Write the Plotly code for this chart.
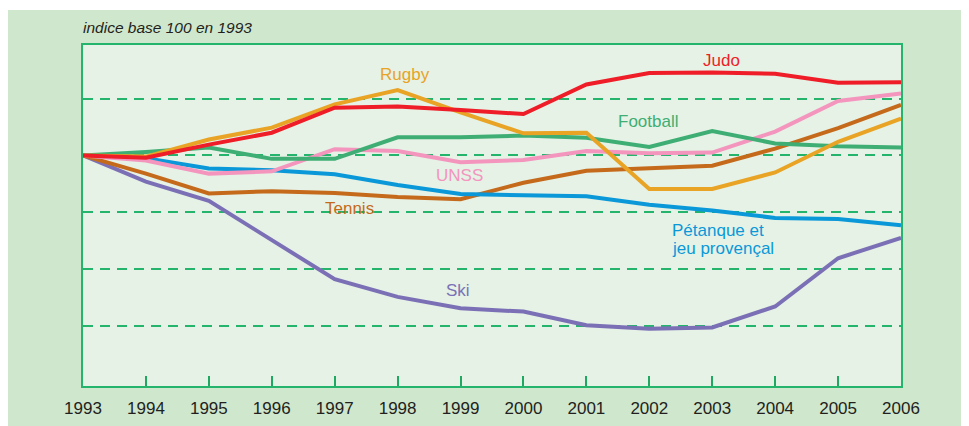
import plotly.graph_objects as go

years = list(range(1993, 2007))

judo = [100, 99.6, 101.9, 104.0, 108.4, 108.6, 108.0, 107.3, 112.5, 114.5, 114.6, 114.4, 112.8, 112.9]
rugby = [100, 99.8, 102.8, 104.9, 109.0, 111.5, 107.6, 103.9, 104.0, 94.1, 94.1, 97.0, 102.4, 106.5]
football = [100, 100.6, 101.4, 99.4, 99.4, 103.2, 103.2, 103.5, 103.1, 101.5, 104.3, 102.1, 101.6, 101.4]
unss = [100, 99.1, 96.8, 97.2, 101.1, 100.8, 98.8, 99.2, 100.8, 100.4, 100.5, 104.2, 109.6, 110.9]
petanque = [100, 99.5, 97.7, 97.4, 96.7, 94.8, 93.2, 93.0, 92.8, 91.3, 90.3, 89.0, 88.8, 87.7]
tennis = [100, 96.8, 93.3, 93.7, 93.4, 92.7, 92.3, 95.2, 97.3, 97.8, 98.2, 101.2, 104.8, 108.9]
ski = [100, 95.4, 92.0, 85.1, 78.2, 75.1, 73.1, 72.5, 70.1, 69.5, 69.7, 73.4, 81.9, 85.5]

grid_vals = [70, 80, 90, 100, 110]

series = [
    ("Ski", ski, "#7b70b6"),
    ("Tennis", tennis, "#c56a1b"),
    ("Pétanque et jeu provençal", petanque, "#0a98d9"),
    ("UNSS", unss, "#f495be"),
    ("Football", football, "#3fae74"),
    ("Rugby", rugby, "#e9a325"),
    ("Judo", judo, "#ee1d27"),
]

FONT = "Liberation Sans, Arial, sans-serif"
GREEN = "#25b46c"

fig = go.Figure()
for name, vals, col in series:
    fig.add_trace(go.Scatter(x=years, y=vals, mode="lines", name=name,
                             line=dict(color=col, width=4), showlegend=False,
                             hoverinfo="skip"))

labels = [
    ("Judo", 2003.14, 116.8, "#ee1d27"),
    ("Rugby", 1998.12, 114.3, "#e9a325"),
    ("Football", 2001.98, 105.9, "#3fae74"),
    ("UNSS", 1998.98, 96.4, "#f495be"),
    ("Tennis", 1997.24, 90.6, "#c56a1b"),
    ("Ski", 1998.96, 76.3, "#7b70b6"),
]
for txt, x, y, col in labels:
    fig.add_annotation(x=x, y=y, text=txt, showarrow=False, xanchor="center", yanchor="middle",
                       font=dict(family=FONT, size=17, color=col))
for txt, y in [("Pétanque et", 86.7), ("jeu provençal", 83.7)]:
    fig.add_annotation(x=2002.33, y=y, text=txt, showarrow=False,
                       xanchor="left", yanchor="middle", align="left",
                       font=dict(family=FONT, size=17, color="#0a98d9"))
fig.add_annotation(x=0, y=1.05, xref="paper", yref="paper", text="<i>indice base 100 en 1993</i>",
                   showarrow=False, xanchor="left", yanchor="middle", xshift=-2,
                   font=dict(family=FONT, size=15.5, color="#231f20"))

# white band at top of the figure
fig.add_shape(type="rect", xref="paper", yref="paper", x0=-0.2, x1=1.2, y0=1.1026, y1=1.2,
              fillcolor="white", line=dict(width=0))

fig.update_layout(
    width=969, height=426,
    margin=dict(l=75, r=76, t=37, b=48),
    paper_bgcolor="#cfe7cd",
    plot_bgcolor="#e5f2e5",
    font=dict(family=FONT, color="#231f20"),
    xaxis=dict(range=[1993, 2006], tickvals=years, ticktext=[str(y) for y in years],
               ticks="inside", ticklen=10, tickwidth=2, tickcolor="#1fa862",
               showline=True, linecolor=GREEN, linewidth=2, mirror=True,
               showgrid=False, zeroline=False, ticklabelstandoff=6,
               tickfont=dict(family=FONT, size=17, color="#231f20")),
    yaxis=dict(range=[59.4, 119.45], tickvals=grid_vals, showticklabels=False,
               ticks="", showline=True, linecolor=GREEN, linewidth=2, mirror=True,
               showgrid=True, gridcolor=GREEN, gridwidth=1.5, griddash="10px,7px",
               zeroline=False),
)

fig.write_html("out.html")
